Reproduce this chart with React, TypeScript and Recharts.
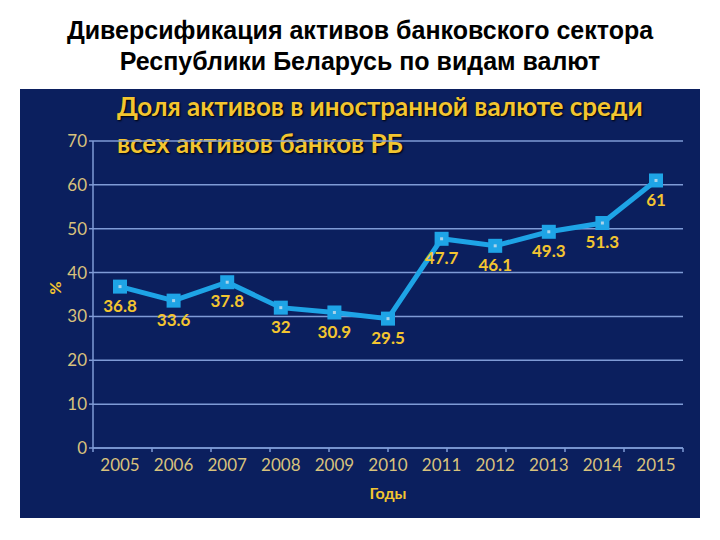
import { LineChart, Line, XAxis, YAxis, CartesianGrid, LabelList, Label } from "recharts";

const years = ["2005", "2006", "2007", "2008", "2009", "2010", "2011", "2012", "2013", "2014", "2015"];
const shares = [36.8, 33.6, 37.8, 32, 30.9, 29.5, 47.7, 46.1, 49.3, 51.3, 61];
const yTicks = [0, 10, 20, 30, 40, 50, 60, 70];
const boundaryTicks = [0, 1, 2, 3, 4, 5, 6, 7, 8, 9, 10, 11];

const data = years.map((year, i) => ({ year, share: shares[i] }));

const PANEL = "#0b1f5e";
const TICK = "#d8c27c";
const GOLD = "#f3c530";
const LINE = "#1ea4e6";
const GRID = "#7f9bd6";

function SquareDot(props: any) {
  const { cx, cy, index } = props;
  if (cx == null || cy == null) return null;
  return (
    <g key={`dot-${index}`}>
      <rect x={cx - 7} y={cy - 7} width={14} height={14} fill={LINE} />
      <rect x={cx - 1.5} y={cy - 1.5} width={3} height={3} fill="#a9d3ea" />
    </g>
  );
}

export default function App() {
  return (
    <div style={{ position: "absolute", left: 0, top: 0, width: 720, height: 540, background: "#fff" }}>
      <div
        style={{
          position: "absolute",
          top: 15,
          left: 0,
          width: 720,
          textAlign: "center",
          fontFamily: "'Liberation Sans', Arial, sans-serif",
          fontWeight: "bold",
          fontSize: 25,
          lineHeight: "31px",
          color: "#000",
        }}
      >
        Диверсификация активов банковского сектора
        <br />
        Республики Беларусь по видам валют
      </div>
      <div style={{ position: "absolute", left: 20, top: 89, width: 680, height: 429, background: PANEL }}>
        <div
          style={{
            position: "absolute",
            left: 97,
            top: -1,
            fontFamily: "Lato, 'Open Sans', sans-serif",
            fontWeight: "bold",
            fontSize: 26,
            lineHeight: "37px",
            color: GOLD,
            textShadow: "1px 1px 2px #000",
          }}
        >
          Доля активов в иностранной валюте среди
          <br />
          всех активов банков РБ
        </div>
        <div style={{ position: "absolute", left: 0, top: 0 }}>
          <LineChart width={680} height={429} data={data} margin={{ top: 52, right: 17, bottom: 19, left: 18 }}>
            <CartesianGrid vertical={false} stroke={GRID} strokeWidth={1.5} />
            <XAxis
              xAxisId="bounds"
              type="number"
              domain={[0, 11]}
              ticks={boundaryTicks}
              stroke={GRID}
              strokeWidth={1.5}
              tickSize={4}
              tickFormatter={() => ""}
              height={1}
            />
            <XAxis
              xAxisId="cat"
              dataKey="year"
              axisLine={false}
              tickLine={false}
              tickMargin={4}
              height={50}
              padding={{ left: 27, right: 27 }}
              tick={{ fill: TICK, fontSize: 17, fontFamily: "Lato, sans-serif" }}
            >
              <Label
                value="Годы"
                position="insideBottom"
                offset={0}
                fill={GOLD}
                fontSize={16}
                fontWeight="bold"
                fontFamily="Lato, sans-serif"
              />
            </XAxis>
            <YAxis
              type="number"
              domain={[0, 70]}
              ticks={yTicks}
              width={55}
              stroke={GRID}
              strokeWidth={1.5}
              tickSize={4}
              tickMargin={2}
              tick={{ fill: TICK, fontSize: 17, fontFamily: "Lato, sans-serif" }}
            >
              <Label
                value="%"
                angle={-90}
                position="insideLeft"
                offset={17}
                fill={GOLD}
                fontSize={16}
                fontWeight="bold"
                fontFamily="Lato, sans-serif"
              />
            </YAxis>
            <Line
              xAxisId="cat"
              type="linear"
              dataKey="share"
              stroke={LINE}
              strokeWidth={5}
              dot={<SquareDot />}
              activeDot={false}
              isAnimationActive={false}
            >
              <LabelList
                dataKey="share"
                position="bottom"
                offset={13}
                fill={GOLD}
                fontSize={17}
                fontWeight="bold"
                fontFamily="Lato, sans-serif"
              />
            </Line>
          </LineChart>
        </div>
      </div>
    </div>
  );
}
